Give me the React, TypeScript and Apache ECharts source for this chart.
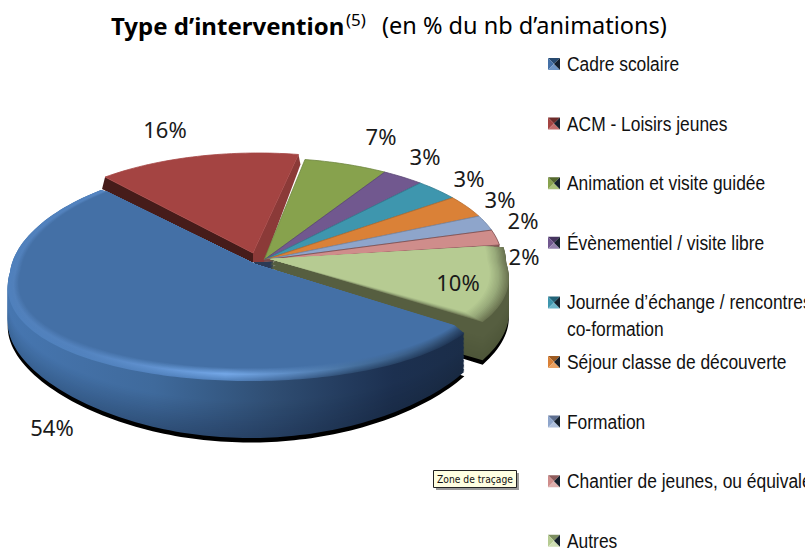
import React, { useEffect, useRef } from "react";
import * as echarts from "echarts";

const categories = [
  "Cadre scolaire",
  "ACM - Loisirs jeunes",
  "Animation et visite guidée",
  "Évènementiel / visite libre",
  "Journée d’échange / rencontres\nco-formation",
  "Séjour classe de découverte",
  "Formation",
  "Chantier de jeunes, ou équivalent",
  "Autres",
];
const values = [54, 16.4, 6.6, 3, 3, 3, 2, 2, 10];
const titleBold = "Type d’intervention";
const titleSup = "(5)";
const titleRest = "(en % du nb d’animations)";
const tipText = "Zone de traçage";

const colors = ["#4470a6", "#a44442", "#87a24d", "#71588f", "#3e96ae", "#da8137", "#8ea5cb", "#cf8d8b", "#b6cb92"];
const swatchDark = ["#274a70", "#6e2b2a", "#55692d", "#46345f", "#226478", "#9c5a22", "#5e6f90", "#8f5c5b", "#7d8e60"];
const swatchLight = ["#6e95c4", "#c26d6b", "#a9c278", "#9381ad", "#6cb6ca", "#eaa263", "#b0c1dd", "#dfb0ae", "#cfdfb4"];

const START = 119;
const FONT = "'Noto Sans', sans-serif";

type Layout = {
  cx: number; cy: number; ax: number; ay: number; r: number; far: number; near: number;
  kFar: number; kNear: number; f: number; d0: number; d1: number; z: number;
  labelX: number; labelY: number; stroke: string; rim?: string;
};
const far = { cx: 264, cy: 260, ax: 264, ay: 260, r: 238, far: 102, near: 101, kFar: 0, kNear: 0, f: 1, d0: 0, d1: 0 };
const layouts: Layout[] = [
  { cx: 250, cy: 270, ax: 255, ay: 264, r: 240, far: 108, near: 103, kFar: 0.06, kNear: 0.14, f: 0.955, d0: 38, d1: 27, z: 30, labelX: 52, labelY: 427, stroke: "none", rim: "blue" },
  { ...far, cx: 258, cy: 253, ax: 253, ay: 253, r: 235, far: 100, z: 5, labelX: 165, labelY: 129, stroke: "#a44442" },
  { ...far, z: 10, labelX: 381, labelY: 136, stroke: "#6f8640" },
  { ...far, z: 11, labelX: 425, labelY: 156, stroke: "#5c4775" },
  { ...far, z: 12, labelX: 469, labelY: 178, stroke: "#327c90" },
  { ...far, z: 13, labelX: 500, labelY: 199, stroke: "#b56b2d" },
  { ...far, z: 14, labelX: 523, labelY: 220, stroke: "#7388a8" },
  { ...far, z: 15, labelX: 524, labelY: 256, stroke: "#7a4a4a" },
  { cx: 270, cy: 260, ax: 270, ay: 259, r: 236, far: 102, near: 101, kFar: 0, kNear: 0.157, f: 0.92, d0: 38, d1: 25, z: 20, labelX: 458, labelY: 282, stroke: "none", rim: "olive" },
];

type Ramp = [number, string][];
const rgb = (h: string) => [1, 3, 5].map((i) => parseInt(h.slice(i, i + 2), 16));
const hex = (c: number[]) => `rgb(${c.map((v) => Math.round(v)).join(",")})`;
const rampRgb = (r: Ramp, u: number): number[] => {
  const t = Math.max(0, Math.min(1, u));
  for (let i = 1; i < r.length; i++) {
    if (t <= r[i][0]) {
      const k = (t - r[i - 1][0]) / (r[i][0] - r[i - 1][0] || 1);
      const a = rgb(r[i - 1][1]);
      const b = rgb(r[i][1]);
      return a.map((v, j) => v + (b[j] - v) * k);
    }
  }
  return rgb(r[r.length - 1][1]);
};
const mix = (a: number[], b: number[], k: number) => a.map((v, j) => v + (b[j] - v) * k);

const rims: Record<string, { top: Ramp; hl: Ramp; edge: Ramp; wall: Ramp; low: Ramp }> = {
  blue: {
    top: [[0, "#4470a6"], [1, "#4470a6"]],
    hl: [[0, "#5180bb"], [0.2, "#5484c0"], [0.45, "#74a8e8"], [0.72, "#46709e"], [1, "#2a4568"]],
    edge: [[0, "#4f80bc"], [0.45, "#5585c0"], [0.72, "#2f4d72"], [1, "#1c304e"]],
    wall: [[0, "#4676b0"], [0.3, "#3f6a9c"], [0.55, "#2f4d72"], [0.8, "#1c3050"], [1, "#1a2c46"]],
    low: [[0, "#3a6496"], [0.3, "#2f5079"], [0.55, "#253e60"], [0.8, "#192b47"], [1, "#18283f"]],
  },
  olive: {
    top: [[0, "#b6cb92"], [1, "#b6cb92"]],
    hl: [[0, "#98aa7a"], [1, "#98aa7a"]],
    edge: [[0, "#6c7552"], [1, "#6c7552"]],
    wall: [[0, "#565e40"], [1, "#565e40"]],
    low: [[0, "#4e5639"], [1, "#4e5639"]],
  },
};
const STOPS = [0, 0.15, 0.3, 0.45, 0.55, 0.72, 0.8, 1];
const WALL_LAYERS = 30;
const BEVEL_LAYERS = 14;

const warp = (t: number) => t - 6 * Math.sin((2 * t * Math.PI) / 180);
const pt = (L: Layout, theta: number, rf = 1, dy = 0): number[] => {
  const w = (warp(theta) * Math.PI) / 180;
  const s = Math.sin(w);
  const c = Math.cos(w);
  const R = L.r * (1 - (c > 0 ? L.kFar * c : L.kNear * c));
  const ry = c > 0 ? L.far : L.near;
  return [L.cx + R * s * rf, L.cy - ry * c * rf + dy];
};
const depth = (L: Layout, theta: number) => {
  const c = Math.cos((warp(theta) * Math.PI) / 180);
  return L.d0 + L.d1 * (c < 0 ? Math.pow(-c, 2.6) : 0);
};
const bevel = (L: Layout, theta: number) => {
  const c = Math.cos((warp(theta) * Math.PI) / 180);
  return 2 + 6 * Math.max(0, -c);
};
const arc = (a: number, b: number, fn: (t: number) => number[], step = 1.5) => {
  const n = Math.max(1, Math.ceil(Math.abs(b - a) / step));
  const out: number[][] = [];
  for (let i = 0; i <= n; i++) out.push(fn(a + ((b - a) * i) / n));
  return out;
};

const renderSlice = (params: any, api: any) => {
  const i = params.dataIndex;
  const L = layouts[i];
  const total = values.reduce((s, v) => s + v, 0);
  const before = values.slice(0, i).reduce((s, v) => s + v, 0);
  const a = START + (before / total) * 360;
  const b = a + (api.value(0) / total) * 360;
  const children: any[] = [];
  const z2 = L.z;
  const poly = (points: number[][], fill: any, stroke = "none", lineWidth = 0) =>
    children.push({ type: "polygon", z2, shape: { points }, style: { fill, stroke, lineWidth }, silent: true });

  if (L.rim) {
    const set = rims[L.rim];
    const x0 = L.cx - L.r;
    const x1 = L.cx + L.r;
    const globalBand = (fn: (u: number) => number[]) =>
      new echarts.graphic.LinearGradient(x0, 0, x1, 0, STOPS.map((u) => ({ offset: u, color: hex(fn(u)) })), true);
    // contact shadow
    poly([[L.ax, L.ay + 40], ...arc(a, b, (t) => pt(L, t, 1, depth(L, t) + 4.5))], "#000000");
    // extruded wall: stacked from the bottom up
    for (let k = 0; k <= WALL_LAYERS; k++) {
      const s = k / WALL_LAYERS;
      const lift = (t: number) => depth(L, t) * (1 - s) + bevel(L, t) * s;
      poly(
        [[L.ax, L.ay + 40 * (1 - s)], ...arc(a, b, (t) => pt(L, t, 1, lift(t)))],
        globalBand((u) => mix(rampRgb(set.low, u), rampRgb(set.wall, u), Math.min(1, s * 1.6)))
      );
    }
    // rounded rim: stacked from the outer edge inward
    for (let k = 0; k <= BEVEL_LAYERS; k++) {
      const s = k / BEVEL_LAYERS;
      const rf = 1 + (L.f - 1) * s;
      const lift = (t: number) => bevel(L, t) * (1 - s);
      poly(
        [[L.ax, L.ay], ...arc(a, b, (t) => pt(L, t, rf, lift(t)))],
        globalBand((u) =>
          s < 0.5
            ? mix(rampRgb(set.edge, u), rampRgb(set.hl, u), s / 0.5)
            : mix(rampRgb(set.hl, u), rampRgb(set.top, u), (s - 0.5) / 0.5)
        )
      );
    }
  }

  if (i === 1) {
    const c0 = pt(L, a);
    const c1 = pt(L, b);
    children.push({
      type: "polygon",
      z2: 4,
      silent: true,
      shape: { points: [[253, 254], [272, 254], [274, 270], [254, 270]] },
      style: { fill: "#2c3a55" },
    });
    poly([c0, [L.ax, L.ay], [L.ax, L.ay + 14], [c0[0] - 3, c0[1] + 12]], "#461c1a");
    poly([[L.ax, L.ay], c1, [c1[0] + 2, c1[1] + 10], [L.ax + 11, L.ay + 9], [L.ax, L.ay + 9]], "#8b3a38");
  }
  if (i > 1 && i < 8) {
    const c1 = pt(L, b);
    poly([[L.ax, L.ay], c1, [c1[0], c1[1] + 2], [L.ax, L.ay + 2]], L.stroke);
  }

  if (!L.rim) {
    poly([[L.ax, L.ay], ...arc(a, b, (t) => pt(L, t, L.f))], colors[i], L.stroke, 0.8);
  }

  children.push({
    type: "text",
    z2: 50,
    silent: true,
    style: {
      text: `${Math.round(api.value(0))}%`,
      x: L.labelX,
      y: L.labelY,
      fill: "#1a1a1a",
      font: `22px ${FONT}`,
      align: "center",
      verticalAlign: "middle",
    },
  });
  return { type: "group", children };
};

const ROW = 59.6;
const legendGraphics = categories.flatMap((name, i) => {
  const y = 64 + ROW * i;
  const s = 6;
  const x = 554;
  const tri = (points: number[][], fill: string) => ({ type: "polygon", shape: { points }, style: { fill }, silent: true });
  const lines = name.split("\n");
  return [
    tri([[x - s, y - s], [x + s, y - s], [x, y]], swatchDark[i]),
    tri([[x - s, y - s], [x - s, y + s], [x, y]], colors[i]),
    tri([[x - s, y + s], [x + s, y + s], [x, y]], swatchLight[i]),
    tri([[x + s, y - s], [x + s, y + s], [x, y]], "#15202c"),
    ...lines.map((line, k) => ({
      type: "text",
      x: 567,
      y: y + k * 27,
      scaleX: 0.87,
      silent: true,
      style: { text: line, x: 0, y: 0, fill: "#111111", font: "20px 'Liberation Sans', Arial, sans-serif", align: "left", verticalAlign: "middle" },
    })),
  ];
});

export default function App() {
  const ref = useRef<HTMLDivElement>(null);
  useEffect(() => {
    document.body.style.margin = "0";
    const chart = echarts.init(ref.current!, undefined, { renderer: "svg" });
    chart.setOption({
      animation: false,
      backgroundColor: "#ffffff",
      series: [
        {
          type: "custom",
          coordinateSystem: "none",
          silent: true,
          renderItem: renderSlice,
          data: categories.map((name, i) => ({ name, value: [values[i]] })),
        },
      ],
      graphic: [
        { type: "text", silent: true, style: { text: titleBold, x: 111, y: 25, fill: "#000", font: `bold 24px ${FONT}`, align: "left", verticalAlign: "middle" } },
        { type: "text", silent: true, style: { text: titleSup, x: 346, y: 19, fill: "#000", font: `17px ${FONT}`, align: "left", verticalAlign: "middle" } },
        { type: "text", silent: true, style: { text: titleRest, x: 382, y: 25, fill: "#000", font: `23.5px ${FONT}`, align: "left", verticalAlign: "middle" } },
        ...legendGraphics,
        { type: "rect", silent: true, shape: { x: 436, y: 473, width: 83, height: 17 }, style: { fill: "#9a9a9a" } },
        { type: "rect", silent: true, shape: { x: 433.5, y: 470.5, width: 83, height: 17 }, style: { fill: "#ffffe1", stroke: "#222", lineWidth: 1 } },
        { type: "text", silent: true, x: 475, y: 479, scaleX: 0.92, style: { text: tipText, x: 0, y: 0, fill: "#111", font: "10px 'DejaVu Sans', sans-serif", align: "center", verticalAlign: "middle" } },
      ],
    });
    return () => chart.dispose();
  }, []);
  return <div ref={ref} style={{ width: 805, height: 554 }} />;
}
